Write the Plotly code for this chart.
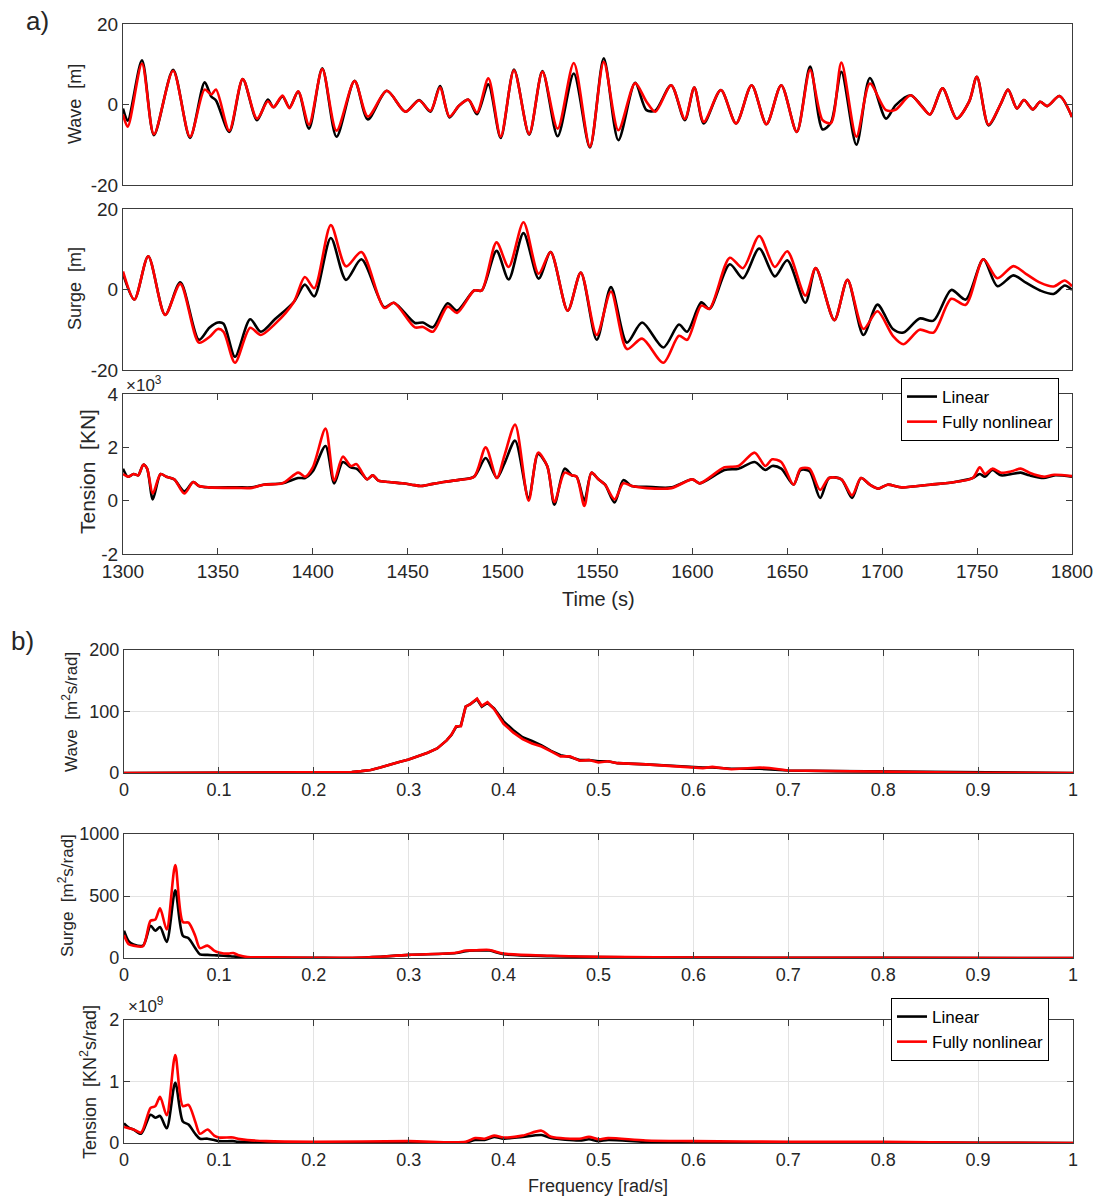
import plotly.graph_objects as go

# ---------------- a) time series (knots read at the curve extrema) ----------------
wave_t = [1300, 1302.5, 1310, 1316.3, 1326.4, 1335.3, 1343, 1346.5, 1349, 1356, 1363.1, 1370.6,
          1376.3, 1379.3, 1384, 1387.7, 1392.3, 1398, 1405, 1412.5, 1422, 1429, 1439, 1448.8,
          1456, 1462, 1467, 1472, 1477, 1482, 1486.5, 1492.5, 1499, 1506, 1514, 1521, 1529,
          1537.5, 1546, 1553.3, 1561, 1569.8, 1575.8, 1580.5, 1588.8, 1596, 1601, 1606, 1615,
          1623, 1631.2, 1639, 1646.8, 1655, 1662, 1668.6, 1673, 1678.5, 1686.4, 1693.5, 1702,
          1707, 1715, 1720.5, 1725.2, 1731.8, 1739.2, 1745.8, 1749.9, 1756, 1762.6, 1766.3,
          1771, 1774.7, 1779.4, 1783.2, 1786.9, 1793.4, 1800]
wave_lin = [-1.0, -4.0, 11.0, -7.6, 8.6, -8.3, 5.5, 2.0, 1.0, -6.8, 6.3, -3.9,
            1.2, -0.7, 2.0, -0.7, 3.2, -6.0, 9.0, -8.0, 5.9, -3.7, 3.4, -1.8,
            1.1, -1.8, 4.6, -3.2, -0.3, 1.2, -2.4, 5.0, -8.3, 8.7, -7.5, 8.3, -7.9,
            7.7, -10.7, 11.5, -8.9, 5.4, -1.4, -1.5, 4.8, -3.9, 4.2, -4.7, 3.6,
            -4.7, 4.8, -4.9, 4.8, -6.8, 9.4, -6.2, -4.5, 8.1, -10.0, 6.6, -3.5,
            -0.2, 2.3, -0.2, -2.5, 4.0, -3.5, 0.7, 6.9, -5.2, 0.3, 3.7,
            -1.0, 1.1, -1.2, 0.7, -0.4, 2.1, -3.1]
wave_nl = [-2.5, -5.5, 10.2, -7.4, 8.4, -8.0, 3.7, 2.5, 3.7, -6.5, 6.3, -3.5,
           0.8, -0.7, 2.2, -0.9, 3.3, -5.0, 8.8, -6.5, 5.8, -3.0, 3.4, -1.8,
           1.0, -1.6, 4.2, -3.0, -0.3, 1.2, -2.0, 6.5, -8.0, 8.5, -7.3, 8.1, -6.0,
           10.3, -10.5, 10.6, -6.4, 5.3, 0.7, -1.8, 4.8, -3.6, 4.2, -4.3, 3.6,
           -4.7, 4.8, -4.9, 4.8, -6.8, 8.6, -3.9, -4.6, 10.4, -8.0, 5.2, -1.4,
           -1.3, 2.3, -0.3, -2.5, 4.0, -3.5, 0.7, 6.9, -5.0, 0.3, 3.7,
           -1.0, 1.1, -1.2, 0.7, -0.4, 2.1, -3.1]

surge_t = [1300, 1306, 1313.3, 1322.2, 1330.2, 1340, 1345.5, 1350, 1353, 1359, 1367, 1372.6,
           1380, 1390, 1395.8, 1400.8, 1409.5, 1417.5, 1425.6, 1437.7, 1442.7, 1453.8, 1458,
           1463.3, 1471, 1476, 1485, 1489, 1496.8, 1503.2, 1511, 1519, 1525.3, 1534.3, 1541.2,
           1549.6, 1557.1, 1565.5, 1573.5, 1584.7, 1592.9, 1597.2, 1604.7, 1609, 1619.7,
           1626.6, 1635.2, 1643.4, 1650, 1659.5, 1665, 1674.8, 1681.7, 1690.1, 1697.5,
           1705.6, 1711.2, 1719.7, 1727, 1736.4, 1744, 1753.3, 1760.7, 1769.1, 1775.7,
           1783.2, 1790.3, 1796.2, 1800]
surge_lin = [3.9, -2.5, 8.25, -6.3, 1.8, -12.5, -9.5, -8.2, -8.5, -16.7, -7.4, -10.5,
             -7.4, -3.1, 1.2, -1.7, 12.8, 2.4, 7.5, -4.4, -3.3, -8.3, -8.2,
             -9.4, -3.4, -5.25, -0.25, -0.25, 9.6, 2.5, 14.0, 2.7, 9.3, -5.25, 4.2,
             -12.5, 0.6, -13.2, -8.2, -14.4, -8.7, -10.5, -3.2, -4.8, 6.25,
             2.8, 10.2, 3.25, 7.25, -3.3, 5.3, -7.6, 2.4, -11.3, -3.75,
             -9.8, -10.7, -7.2, -7.75, -0.1, -2.5, 7.5, 0.8, 3.5, 1.7,
             -0.25, -1.1, 1.0, -0.1]
surge_nl = [4.5, -2.5, 8.25, -6.3, 1.4, -13.2, -11.8, -9.8, -10.5, -18.2, -9.5, -11.3,
            -8.6, -3.1, 3.1, 0.3, 16.0, 5.75, 9.3, -4.6, -3.3, -9.4, -9.3,
            -10.5, -4.25, -5.8, -0.25, -0.25, 11.7, 5.6, 16.7, 3.9, 9.3, -5.25, 4.2,
            -11.3, -0.5, -14.8, -12.2, -18.2, -11.5, -12.5, -4.0, -4.8, 7.9,
            5.3, 13.3, 5.6, 9.5, -1.5, 5.3, -7.6, 2.4, -9.8, -5.4,
            -11.5, -13.6, -10.0, -10.7, -2.3, -3.8, 7.5, 2.8, 5.8, 3.9,
            1.7, 0.75, 2.25, 0.8]

# tension in 10^3 kN
tens_t = [1300, 1302.6, 1305.6, 1308, 1310.7, 1312.7, 1315.7, 1319.8, 1322.8, 1327, 1332.3,
          1337, 1340, 1345, 1360, 1368, 1374, 1384, 1392.3, 1396, 1400, 1406.7, 1411.3,
          1415.8, 1420, 1423, 1426, 1428.6, 1431.6, 1434.6, 1440, 1447, 1452, 1456.9, 1461,
          1469, 1477, 1485, 1491.1, 1497, 1501, 1506.6, 1513.7, 1518.7, 1523.5, 1527.3,
          1532.7, 1536.5, 1539, 1543.1, 1546.8, 1550.5, 1554, 1559, 1563.6, 1568, 1575.8,
          1589, 1600, 1603.8, 1616.9, 1624.3, 1632.8, 1638.4, 1642, 1646.8, 1653.3, 1657,
          1661.7, 1667.3, 1672, 1678.5, 1684.1, 1688.8, 1693.5, 1698.1, 1702.8, 1710.3,
          1725.2, 1738.3, 1747.7, 1751.4, 1754.2, 1758, 1762.6, 1768.2, 1773, 1777.6,
          1785, 1790.6, 1800]
tens_lin = [1.2, 0.9, 1.0, 0.95, 1.35, 1.2, 0.05, 1.0, 0.9, 0.8, 0.35,
            0.7, 0.55, 0.5, 0.5, 0.5, 0.6, 0.65, 0.85, 0.85, 1.1, 2.05, 0.65,
            1.45, 1.25, 1.2, 1.0, 0.8, 0.95, 0.75, 0.7, 0.65, 0.6, 0.55, 0.6,
            0.7, 0.78, 0.9, 1.6, 0.85, 1.4, 2.25, 0.1, 1.75, 1.3, -0.15,
            1.2, 0.95, 0.9, 0.0, 1.05, 0.8, 0.6, -0.07, 0.77, 0.55, 0.52,
            0.5, 0.8, 0.65, 1.15, 1.2, 1.45, 1.15, 1.3, 1.2, 0.6, 1.15,
            1.1, 0.1, 0.85, 0.8, 0.1, 0.85, 0.6, 0.45, 0.6, 0.5,
            0.6, 0.7, 0.85, 1.0, 0.9, 1.15, 0.95, 1.0, 1.05, 0.95,
            0.85, 0.95, 0.9]
tens_nl = [1.0, 0.9, 1.0, 0.95, 1.35, 1.2, 0.27, 1.0, 0.9, 0.8, 0.27,
           0.7, 0.55, 0.5, 0.48, 0.48, 0.6, 0.65, 1.05, 0.9, 1.25, 2.7, 0.75,
           1.65, 1.3, 1.37, 1.05, 0.8, 0.95, 0.75, 0.7, 0.65, 0.6, 0.55, 0.6,
           0.7, 0.78, 0.9, 2.0, 0.85, 1.7, 2.85, 0.0, 1.8, 1.3, -0.05,
           1.05, 0.95, 0.9, -0.2, 1.05, 0.8, 0.6, 0.05, 0.65, 0.55, 0.47,
           0.47, 0.8, 0.65, 1.25, 1.3, 1.8, 1.3, 1.55, 1.45, 0.6, 1.2,
           1.2, 0.4, 0.85, 0.8, 0.2, 0.85, 0.6, 0.45, 0.6, 0.5,
           0.6, 0.7, 0.85, 1.25, 1.0, 1.2, 1.05, 1.1, 1.2, 1.05,
           0.9, 0.97, 0.92]

# ---------------- b) spectra ----------------
fw = [0, 0.1, 0.2, 0.24, 0.25, 0.26, 0.27, 0.28, 0.29, 0.30, 0.31, 0.32, 0.33, 0.34, 0.345,
      0.35, 0.355, 0.36, 0.365, 0.372, 0.377, 0.383, 0.39, 0.40, 0.41, 0.42, 0.43, 0.44, 0.45,
      0.46, 0.47, 0.48, 0.49, 0.50, 0.51, 0.52, 0.55, 0.58, 0.60, 0.61, 0.62, 0.64, 0.67, 0.68,
      0.70, 0.75, 0.80, 0.85, 0.90, 1.00]
sw_lin = [0, 0.5, 1, 1.5, 3, 5, 9, 14, 18, 22, 27, 33, 40, 53, 62,
          75, 77, 108, 112, 120, 108, 114, 105, 84, 70, 58, 52, 45, 36,
          29, 26, 21, 21, 19, 19, 16, 14, 11, 10, 9, 9, 7, 7, 6,
          4, 3, 2.5, 2, 0.5, 0]
sw_nl = [0, 0.5, 1, 1.5, 3, 5, 9, 14, 18, 22, 27, 33, 40, 53, 62,
         76, 76, 108, 112, 121, 109, 115, 104, 80, 66, 55, 48, 43, 35,
         27, 27, 20, 21, 17, 19, 16, 14, 11, 10, 8, 10, 6, 9, 8,
         4, 3, 2.5, 2, 0.5, 0]

fs = [0, 0.005, 0.01, 0.02, 0.028, 0.033, 0.038, 0.045, 0.054, 0.062, 0.068, 0.075, 0.08,
      0.088, 0.095, 0.10, 0.11, 0.115, 0.12, 0.13, 0.15, 0.20, 0.25, 0.30, 0.35, 0.36, 0.37,
      0.385, 0.40, 0.45, 0.50, 0.60, 0.80, 1.00]
ss_lin = [220, 135, 110, 100, 260, 220, 250, 130, 545, 180, 160, 80, 30,
          25, 22, 20, 15, 12, 10, 5, 3, 1, 2, 25, 40, 55, 60,
          60, 30, 15, 8, 3, 1, 0]
ss_nl = [185, 110, 100, 95, 300, 310, 400, 230, 750, 290, 285, 180, 80,
         100, 60, 45, 35, 40, 25, 8, 5, 2, 3, 25, 42, 60, 62,
         65, 35, 18, 10, 4, 1, 0]

# tension spectrum in 10^9 kN^2 s/rad
ft = [0, 0.005, 0.01, 0.018, 0.028, 0.033, 0.038, 0.045, 0.054, 0.062, 0.068, 0.075, 0.08,
      0.088, 0.095, 0.10, 0.115, 0.12, 0.13, 0.15, 0.20, 0.30, 0.36, 0.37, 0.38, 0.39, 0.40,
      0.42, 0.44, 0.45, 0.48, 0.49, 0.50, 0.51, 0.55, 0.60, 0.70, 0.80, 0.90, 1.00]
st_lin = [0.32, 0.25, 0.22, 0.15, 0.46, 0.41, 0.44, 0.24, 0.98, 0.35, 0.30, 0.15, 0.07,
          0.07, 0.05, 0.03, 0.03, 0.02, 0.02, 0.0, 0.0, 0.01, 0.01, 0.05, 0.05, 0.10, 0.07,
          0.10, 0.13, 0.08, 0.04, 0.06, 0.03, 0.05, 0.02, 0.01, 0.01, 0.01, 0.005, 0]
st_nl = [0.26, 0.24, 0.22, 0.17, 0.57, 0.60, 0.75, 0.45, 1.43, 0.60, 0.62, 0.35, 0.15,
         0.22, 0.12, 0.09, 0.09, 0.07, 0.05, 0.03, 0.02, 0.03, 0.02, 0.08, 0.07, 0.12, 0.09,
         0.12, 0.20, 0.10, 0.07, 0.10, 0.06, 0.08, 0.04, 0.03, 0.02, 0.02, 0.005, 0]

W, H = 1096, 1198
FONT = "Liberation Sans, Arial, sans-serif"
TXT = "#262626"


def px(x):
    return x / W


def py(y):
    return 1 - y / H


fig = go.Figure()

panels = [
    (wave_t, wave_lin, wave_nl, 'spline'),
    (surge_t, surge_lin, surge_nl, 'spline'),
    (tens_t, tens_lin, tens_nl, 'spline'),
    (fw, sw_lin, sw_nl, 'linear'),
    (fs, ss_lin, ss_nl, 'spline'),
    (ft, st_lin, st_nl, 'spline'),
]
for i, (x, ylin, ynl, shape) in enumerate(panels):
    n = '' if i == 0 else str(i + 1)
    show = i in (2, 5)
    leg = 'legend' if i < 3 else 'legend2'
    fig.add_trace(go.Scatter(x=x, y=ylin, mode='lines', name='Linear', xaxis='x' + n, yaxis='y' + n,
                             line=dict(color='black', width=2.6, shape=shape, smoothing=0.8),
                             showlegend=show, legend=leg))
    fig.add_trace(go.Scatter(x=x, y=ynl, mode='lines', name='Fully nonlinear', xaxis='x' + n, yaxis='y' + n,
                             line=dict(color='#ff0000', width=2.6, shape=shape, smoothing=0.8),
                             showlegend=show, legend=leg))

# panel boxes in pixels: (top, bottom)
boxes = [(24, 185), (209, 370), (394, 554), (650, 773), (834, 958), (1020, 1143)]
xdom_a = [px(123), px(1072)]
xdom_b = [px(124), px(1073)]

base = dict(showline=True, linecolor='#3c3c3c', linewidth=1.2, mirror='ticks', ticks='inside',
            ticklen=6, tickcolor='#3c3c3c', zeroline=False, showgrid=False, automargin=False,
            tickfont=dict(family=FONT, size=18, color=TXT))

ycfg = [
    dict(range=[-20, 20], tickvals=[-20, 0, 20], ticktext=['-20', '0', '20']),
    dict(range=[-20, 20], tickvals=[-20, 0, 20], ticktext=['-20', '0', '20']),
    dict(range=[-2, 4], tickvals=[-2, 0, 2, 4], ticktext=['-2', '0', '2', '4']),
    dict(range=[0, 200], tickvals=[0, 100, 200], showgrid=True),
    dict(range=[0, 1000], tickvals=[0, 500, 1000], showgrid=True),
    dict(range=[0, 2], tickvals=[0, 1, 2], showgrid=True),
]

lay = {}
for i in range(6):
    n = '' if i == 0 else str(i + 1)
    top, bot = boxes[i]
    xa = dict(base, domain=xdom_a if i < 3 else xdom_b, anchor='y' + n)
    if i < 3:
        xa.update(range=[1300, 1800], tickvals=list(range(1300, 1801, 50)),
                  tickfont=dict(family=FONT, size=19, color=TXT))
        if i < 2:
            xa.update(showticklabels=False, ticks='')
    else:
        xa.update(range=[0, 1], tickvals=[k / 10 for k in range(11)],
                  ticktext=['0'] + ['0.%d' % k for k in range(1, 10)] + ['1'],
                  showgrid=True, gridcolor='#e3e3e3')
    ya = dict(base, domain=[py(bot), py(top)], anchor='x' + n)
    ya.update(ycfg[i])
    if i < 3:
        ya['tickfont'] = dict(family=FONT, size=19, color=TXT)
    if ya.get('showgrid'):
        ya['gridcolor'] = '#e3e3e3'
    lay['xaxis' + n] = xa
    lay['yaxis' + n] = ya

fig.update_layout(**lay)


def label(text, x, y, size, angle=0, anchor='center'):
    fig.add_annotation(text=text, x=px(x), y=py(y), xref='paper', yref='paper', showarrow=False,
                       textangle=angle, xanchor=anchor, yanchor='middle',
                       font=dict(family=FONT, size=size, color=TXT))


label('a)', 37, 21, 26)
label('b)', 22, 641, 26)
label('Wave  [m]', 75, 104, 18, -90)
label('Surge  [m]', 75, 289, 18, -90)
label('Tension  [KN]', 87, 472, 21, -90)
label('Time (s)', 598, 599, 20)
label('×10<sup>3</sup>', 124, 384, 17, anchor='left')
label('Wave  [m<sup>2</sup>s/rad]', 70, 712, 17, -90)
label('Surge  [m<sup>2</sup>s/rad]', 66, 896, 17, -90)
label('Tension  [KN<sup>2</sup>s/rad]', 88, 1082, 18, -90)
label('×10<sup>9</sup>', 126, 1005, 17, anchor='left')
label('Frequency [rad/s]', 598, 1186, 18)

legstyle = dict(bgcolor='white', bordercolor='black', borderwidth=1, xanchor='right', yanchor='top',
                font=dict(family=FONT, size=17, color='black'), tracegroupgap=0, itemwidth=30)
fig.update_layout(
    width=W, height=H,
    margin=dict(l=0, r=0, t=0, b=0, pad=0, autoexpand=False),
    paper_bgcolor='white', plot_bgcolor='white',
    font=dict(family=FONT, color=TXT),
    legend=dict(legstyle, x=px(1059), y=py(378)),
    legend2=dict(legstyle, x=px(1049), y=py(998)),
)

# drop the default page margin so the figure sits at the window corner
fig.write_html("out.html", config={'displayModeBar': False},
               post_script="document.body.style.margin='0';")
